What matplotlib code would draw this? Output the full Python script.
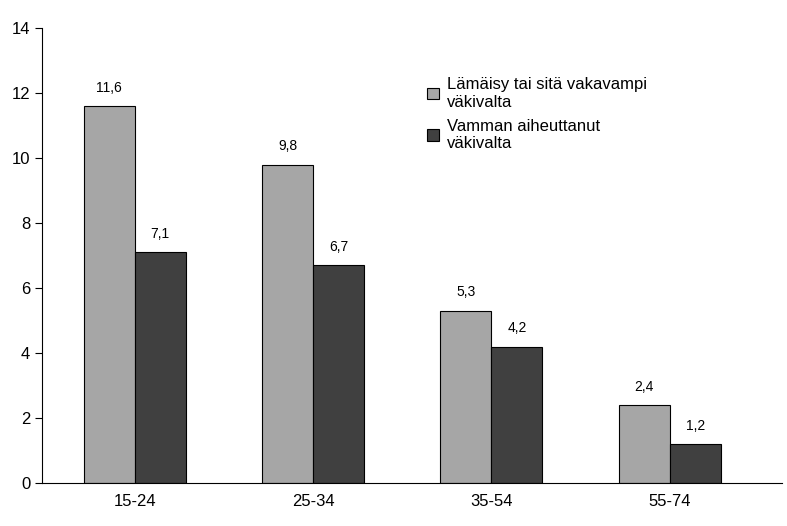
import matplotlib
matplotlib.use("Agg")
import matplotlib.pyplot as plt
import numpy as np

categories = ["15-24", "25-34", "35-54", "55-74"]
series1 = [11.6, 9.8, 5.3, 2.4]
series2 = [7.1, 6.7, 4.2, 1.2]
names = ["Lämäisy tai sitä vakavampi\nväkivalta", "Vamman aiheuttanut\nväkivalta"]

plt.rcParams['font.family'] = ['Liberation Sans', 'DejaVu Sans']
fig = plt.figure(figsize=(7.87, 5.26), dpi=100)
ax = fig.add_axes([42/787, 1-483/526, 740/787, 455/526])
x = np.arange(len(categories))
w = 0.286
b1 = ax.bar(x - w/2, series1, w, color="#a6a6a6", edgecolor="black", linewidth=0.8, label=names[0])
b2 = ax.bar(x + w/2, series2, w, color="#404040", edgecolor="black", linewidth=0.8, label=names[1])
for bars, vals in ((b1, series1), (b2, series2)):
    for r, v in zip(bars, vals):
        ax.text(r.get_x() + r.get_width()/2, v + 0.35, f"{v:.1f}".replace(".", ","),
                ha="center", va="bottom", fontsize=10)
ax.set_xlim(-0.52, 3.63)
ax.set_ylim(0, 14)
ax.set_yticks(range(0, 15, 2))
ax.set_xticks(x)
ax.set_xticklabels(categories, fontsize=12)
ax.tick_params(axis='y', labelsize=12, direction='out', length=5)
ax.tick_params(axis='x', length=0, pad=8)
for s in ["top", "right"]:
    ax.spines[s].set_visible(False)
ax.legend(loc="upper left", bbox_to_anchor=(0.5, 0.925), frameon=False, fontsize=12,
          handlelength=0.7, handleheight=0.7, labelspacing=0.55, handletextpad=0.5)
fig.savefig("out.png", dpi=100)
